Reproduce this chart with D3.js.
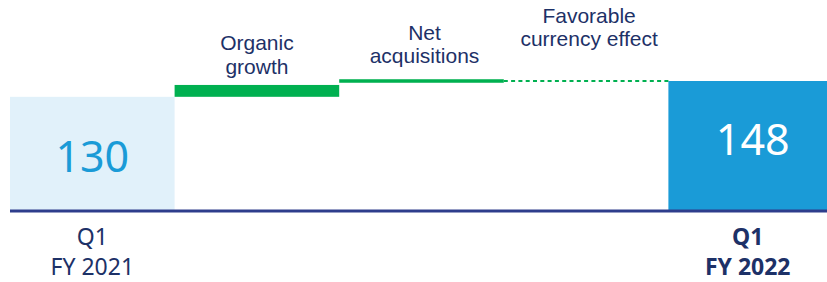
<!DOCTYPE html>
<html>
<head>
<meta charset="utf-8">
<script src="https://cdn.jsdelivr.net/npm/d3@7/dist/d3.min.js"></script>
<style>
	html, body { margin: 0; padding: 0; background: #fff; }
	svg { display: block; font-family: "Noto Sans", sans-serif; }
</style>
</head>
<body>
<div id="chart"></div>
<script>
// Chart data
var categories = ['Q1 FY 2021', 'Organic growth', 'Net acquisitions', 'Favorable currency effect', 'Q1 FY 2022'];
var totalLabels = [['Q1', 'FY 2021'], ['Q1', 'FY 2022']];
var totalValues = [130, 148];
var stepLabels = [['Organic', 'growth'], ['Net', 'acquisitions'], ['Favorable', 'currency effect']];
var stepLow = [130, 146, 148];
var stepHigh = [143.5, 150, 148];

var width = 827,
	height = 282,
	navy = '#1d3167',
	green = '#00b050';

var svg = d3.select('#chart')
	.append('svg')
	.attr('width', width)
	.attr('height', height);

var x = d3.scaleBand()
	.domain(categories)
	.range([10, 833])
	.padding(0);

var y = d3.scaleLinear()
	.domain([0, 148])
	.range([211, 81]);

// total bars (first and last category)
var totals = totalValues.map(function(v, i) {
	return { cat: i === 0 ? categories[0] : categories[categories.length - 1], value: v, label: totalLabels[i], i: i };
});

svg.selectAll('rect.total')
	.data(totals)
	.enter()
	.append('rect')
	.attr('class', 'total')
	.attr('x', function(d) { return x(d.cat); })
	.attr('y', function(d) { return y(d.value); })
	.attr('width', x.bandwidth())
	.attr('height', function(d) { return y(0) - y(d.value); })
	.attr('fill', function(d) { return d.i === 0 ? '#e1f1fa' : '#1a9bd7'; });

// value labels inside the total bars
var valueLift = [39, 56];
svg.selectAll('text.value')
	.data(totals)
	.enter()
	.append('text')
	.attr('class', 'value')
	.attr('text-anchor', 'middle')
	.attr('x', function(d) { return x(d.cat) + x.bandwidth() / 2 + (d.i === 0 ? 0 : 2); })
	.attr('y', function(d) { return y(0) - valueLift[d.i]; })
	.attr('font-size', 43)
	.attr('fill', function(d) { return d.i === 0 ? '#1a9bd7' : '#fff'; })
	.text(function(d) { return d.value; });

// change steps
var steps = stepLow.map(function(lo, i) {
	return { cat: categories[i + 1], lo: lo, hi: stepHigh[i], label: stepLabels[i], i: i };
});

steps.forEach(function(d) {
	if (d.hi > d.lo) {
		svg.append('rect')
			.attr('x', x(d.cat))
			.attr('y', y(d.hi))
			.attr('width', x.bandwidth())
			.attr('height', y(d.lo) - y(d.hi))
			.attr('fill', green);
	} else {
		// no visible change: dotted connector
		svg.append('line')
			.attr('x1', x(d.cat))
			.attr('x2', x(d.cat) + x.bandwidth())
			.attr('y1', y(d.hi))
			.attr('y2', y(d.hi))
			.attr('stroke', green)
			.attr('stroke-width', 2)
			.attr('stroke-dasharray', '4,3.3');
	}
});

// step labels above the steps
var labelLift = [11, 16, 35];
steps.forEach(function(d) {
	var cx = x(d.cat) + x.bandwidth() / 2 + (d.i === 0 ? 0 : 3),
		lastBase = y(d.hi) - labelLift[d.i];
	d.label.forEach(function(line, j) {
		svg.append('text')
			.attr('text-anchor', 'middle')
			.attr('font-family', '"Liberation Sans", Arial, sans-serif')
			.attr('font-size', 21)
			.attr('fill', navy)
			.attr('x', cx)
			.attr('y', lastBase - (d.label.length - 1 - j) * 23.5)
			.text(line);
	});
});

// baseline
svg.append('line')
	.attr('x1', 10)
	.attr('x2', width)
	.attr('y1', y(0))
	.attr('y2', y(0))
	.attr('stroke', '#2e3d8c')
	.attr('stroke-width', 3);

// category labels under the totals
totals.forEach(function(d) {
	d.label.forEach(function(line, j) {
		svg.append('text')
			.attr('text-anchor', 'middle')
			.attr('font-size', 23)
			.attr('font-weight', d.i === 0 ? 'normal' : 'bold')
			.attr('fill', navy)
			.attr('x', x(d.cat) + x.bandwidth() / 2 - (d.i === 0 ? 0 : 3))
			.attr('y', 245 + j * 30)
			.text(line);
	});
});
</script>
</body>
</html>
